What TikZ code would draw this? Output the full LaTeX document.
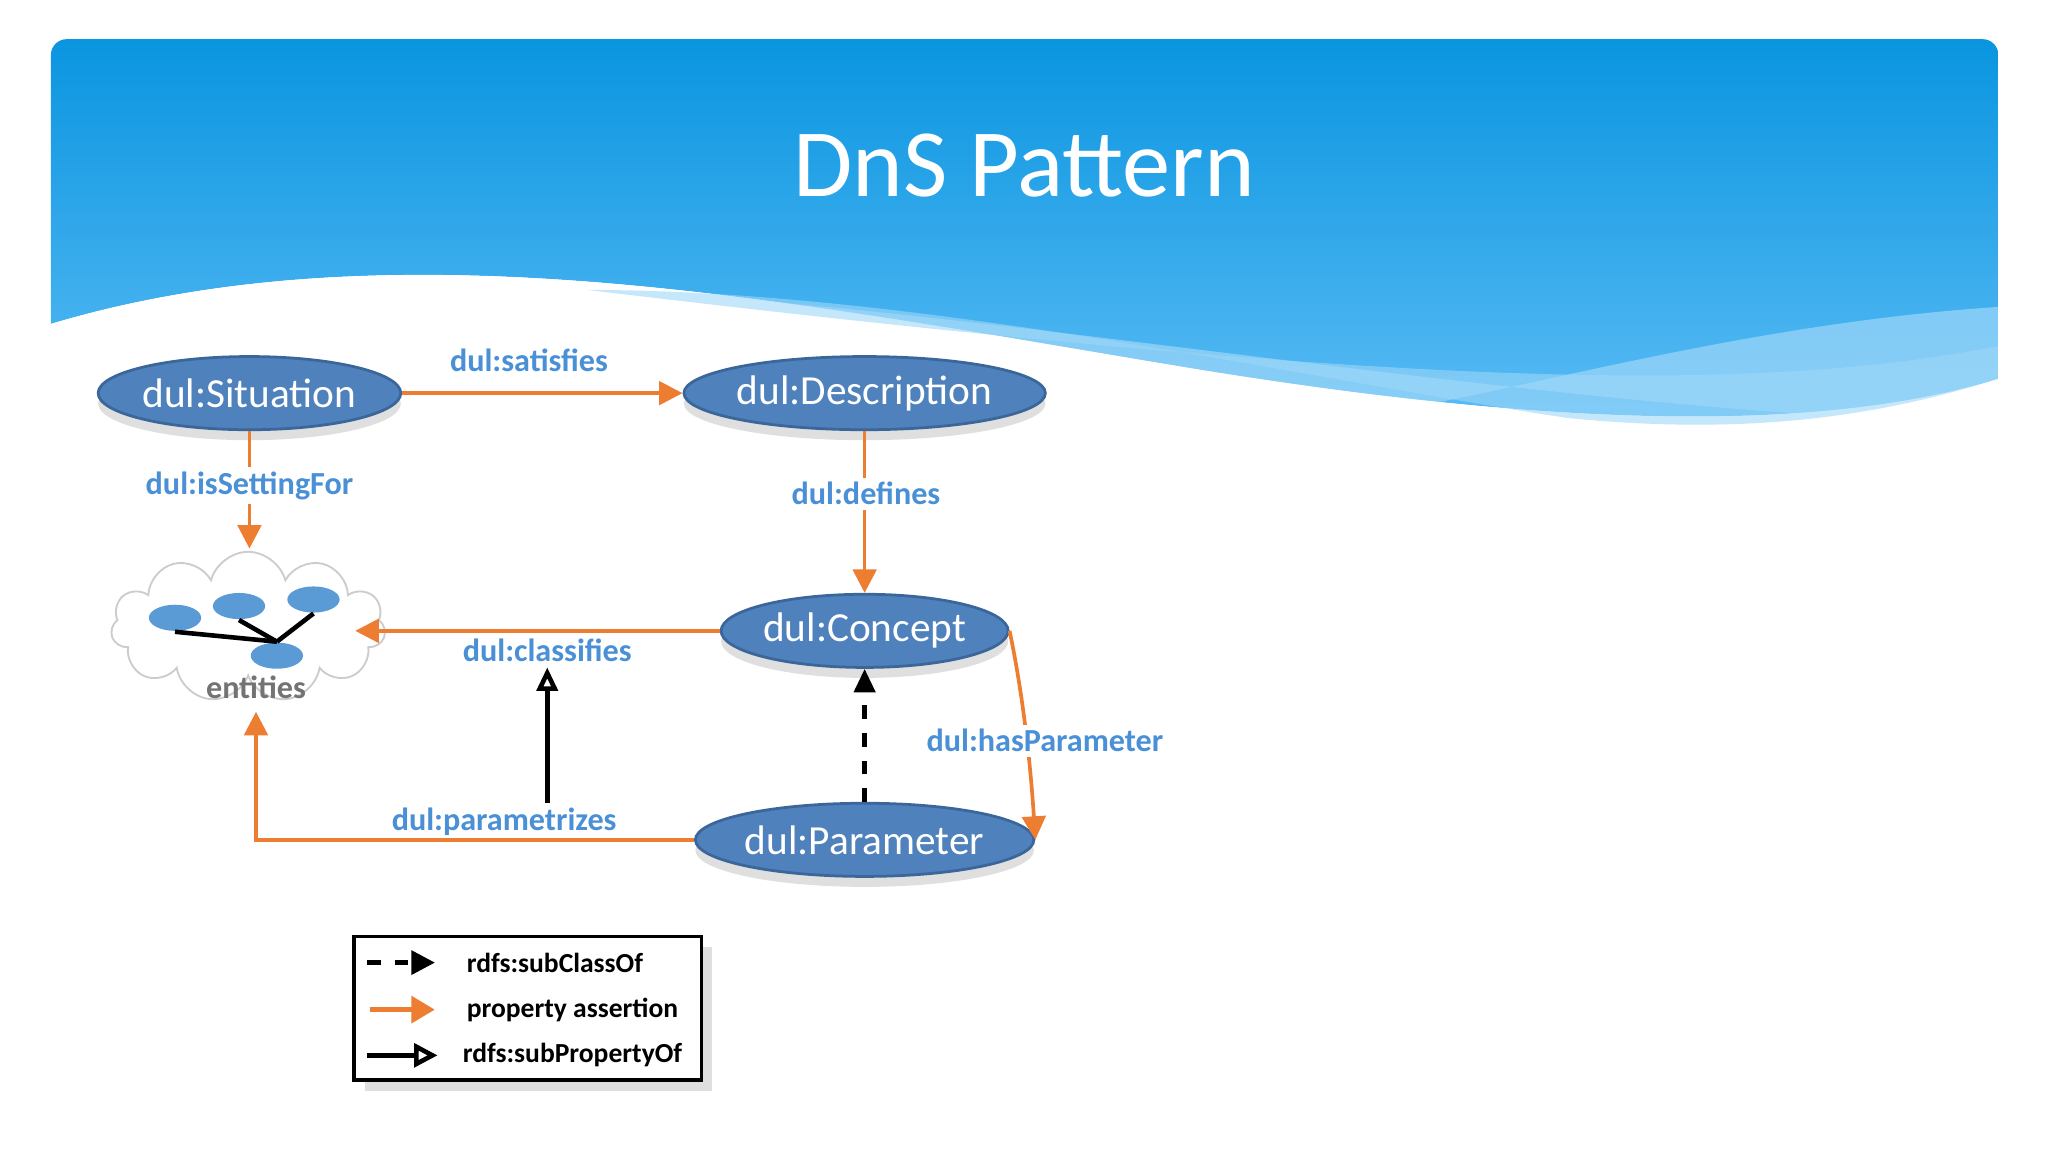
\documentclass[tikz,border=0pt]{standalone}
\usepackage{fontspec}
\setmainfont{Carlito}
\usetikzlibrary{arrows.meta,shapes.geometric,shapes.symbols,shadows}
\definecolor{hdtop}{HTML}{0A95E0}
\definecolor{hdbot}{HTML}{5BBCF5}
\definecolor{nodefill}{HTML}{4F81BD}
\definecolor{nodeline}{HTML}{3A6699}
\definecolor{orng}{HTML}{ED7D31}
\definecolor{lbl}{HTML}{4A90D6}
\definecolor{dot}{HTML}{5B9BD5}
\tikzset{
  cls/.style={ellipse,fill=nodefill,draw=nodeline,line width=0.6pt,text=white,font=\fontsize{9}{10}\selectfont,inner sep=0pt,drop shadow={opacity=0.25,shadow xshift=0pt,shadow yshift=-0.08cm}},
  prop/.style={draw=orng,line width=0.8pt,-{Triangle[length=0.18cm,width=0.18cm]}},
  lab/.style={text=lbl,font=\bfseries\fontsize{7}{8}\selectfont,inner sep=1pt},
  dotn/.style={ellipse,fill=dot,minimum width=0.4cm,minimum height=0.2cm,inner sep=0pt},
}
\begin{document}
\begin{tikzpicture}[x=0.01cm,y=-0.01cm]
\useasboundingbox (0,0) rectangle (1568,882);
\fill[white] (0,0) rectangle (1568,882);
% header
\begin{scope}
\clip[rounded corners=0.12cm] (39,30) rectangle (1530,400);
\shade[top color=hdtop,bottom color=hdbot] (39,30) -- (1530,30) -- (1530,290)
  .. controls (1400,330) and (1200,330) .. (900,280)
  .. controls (600,230) and (300,170) .. (39,248) -- cycle;
\fill[white!40!hdbot,opacity=0.7] (450,222) .. controls (700,230) and (1100,300) .. (1400,318)
  .. controls (1460,312) and (1500,300) .. (1530,290) -- (1530,235)
  .. controls (1300,250) and (1100,320) .. (1000,322)
  .. controls (900,290) and (700,230) .. (450,222) -- cycle;
\fill[white] (39,248) .. controls (300,170) and (600,230) .. (900,280)
  .. controls (1200,330) and (1400,330) .. (1530,290) -- (1530,400) -- (39,400) -- cycle;
\fill[hdbot!60!white,opacity=0.6] (450,222) .. controls (700,222) and (1000,290) .. (1200,320)
  .. controls (1350,335) and (1450,315) .. (1530,290) -- (1530,265)
  .. controls (1350,300) and (1100,300) .. (450,222) -- cycle;
\end{scope}
\node[text=white,font=\fontsize{21}{24}\selectfont] (title) at (784,127) {DnS Pattern};
% nodes
\node[cls,minimum width=2.0cm,minimum height=0.56cm] (sit) at (191,301) {dul:Situation};
\node[cls,minimum width=2.5cm,minimum height=0.56cm] (desc) at (662,301) {dul:Description};
\node[cls,minimum width=2.1cm,minimum height=0.56cm] (conc) at (662,483) {dul:Concept};
\node[cls,minimum width=2.3cm,minimum height=0.56cm] (par) at (662,643) {dul:Parameter};
% cloud
\node[cloud,cloud puffs=11,aspect=1.8,draw=gray!40,fill=white,minimum width=2.1cm,minimum height=1.15cm] (ent) at (190,480) {};
\node[dotn] (d1) at (134,473) {};
\node[dotn] (d2) at (183,464) {};
\node[dotn] (d3) at (240,459) {};
\node[dotn] (d4) at (212,502) {};
\draw[line width=1pt] (d1.south) -- (d4.north);
\draw[line width=1pt] (d2.south) -- (d4.north);
\draw[line width=1pt] (d3.south) -- (d4.north);
\node[text=gray!90!black,font=\bfseries\fontsize{7}{8}\selectfont] (entl) at (196,526) {entities};
% connectors
\draw[prop] (sit.east) -- (desc.west);
\node[lab] (l1) at (405,276) {dul:satisfies};
\coordinate (sitend) at (191,420);
\draw[prop] (sit.south) -- (sitend);
\node[lab,fill=white] (l2) at (191,372) {dul:isSettingFor};
\draw[prop] (desc.south) -- (conc.north);
\node[lab,fill=white] (l3) at (663,378) {dul:defines};
\coordinate (clE) at (272,483);
\draw[prop] (conc.west) -- (clE);
\node[lab] (l4) at (419,498) {dul:classifies};
\coordinate (clS) at (196,545);
\draw[prop] (par.west) -- (196,643) -- (clS);
\node[lab] (l5) at (386,629) {dul:parametrizes};
\draw[prop] (conc.east) .. controls (785,540) and (790,600) .. (par.east);
\node[lab,fill=white] (l6) at (800,567) {dul:hasParameter};
\draw[line width=1pt,dashed,-{Triangle[length=0.18cm,width=0.16cm]}] (par.north) -- (conc.south);
\coordinate (pz) at (419,615);
\draw[line width=1pt,-{Triangle[open,length=0.18cm,width=0.16cm]}] (pz) -- (l4.south);
% legend
\node[draw=black,line width=0.8pt,fill=white,minimum width=2.66cm,minimum height=1.1cm,drop shadow={opacity=0.25}] (leg) at (404,772) {};
\coordinate (a1) at (281,737); \coordinate (b1) at (333,737);
\coordinate (a2) at (283,773); \coordinate (b2) at (333,773);
\coordinate (a3) at (281,808); \coordinate (b3) at (335,808);
\draw[line width=1pt,dashed,-{Triangle[length=0.18cm,width=0.18cm]}] (a1) -- (b1);
\draw[line width=1.2pt,orng,-{Triangle[length=0.18cm,width=0.2cm]}] (a2) -- (b2);
\draw[line width=1pt,-{Triangle[open,length=0.18cm,width=0.18cm]}] (a3) -- (b3);
\node[anchor=west,font=\bfseries\fontsize{6}{7}\selectfont] (t1) at (345,737) {rdfs:subClassOf};
\node[anchor=west,font=\bfseries\fontsize{6}{7}\selectfont] (t2) at (345,773) {property assertion};
\node[anchor=west,font=\bfseries\fontsize{6}{7}\selectfont] (t3) at (342,808) {rdfs:subPropertyOf};
\end{tikzpicture}
\end{document}
